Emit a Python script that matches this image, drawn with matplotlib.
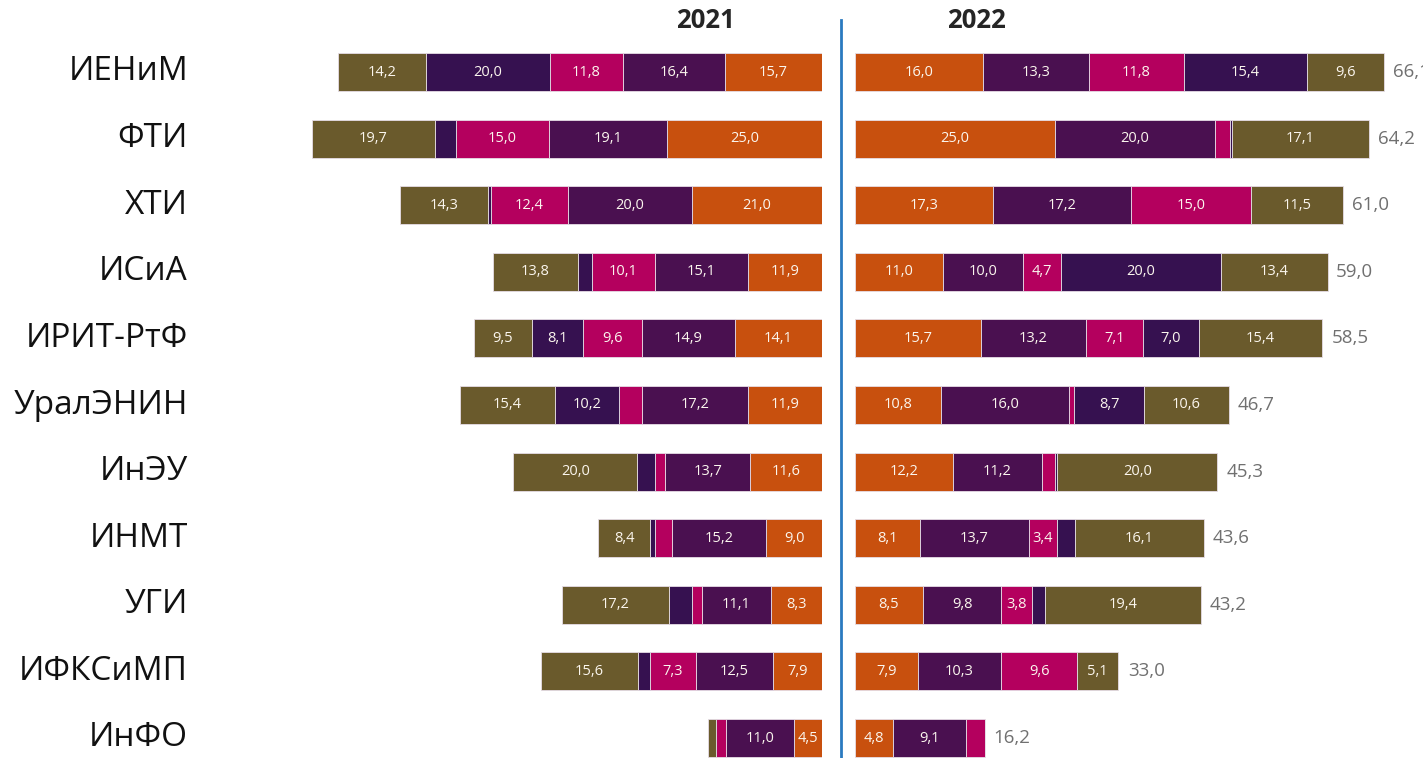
import numpy as np
import matplotlib.pyplot as plt

plt.rcParams['font.family'] = ['Open Sans', 'DejaVu Sans']

# institutes, top to bottom
cats = ['ИЕНиМ', 'ФТИ', 'ХТИ', 'ИСиА', 'ИРИТ-РтФ', 'УралЭНИН', 'ИнЭУ', 'ИНМТ', 'УГИ', 'ИФКСиМП', 'ИнФО']

# components, from the centre line outwards
a21 = [15.7, 25.0, 21.0, 11.9, 14.1, 11.9, 11.6, 9.0, 8.3, 7.9, 4.5]
b21 = [16.4, 19.1, 20.0, 15.1, 14.9, 17.2, 13.7, 15.2, 11.1, 12.5, 11.0]
c21 = [11.8, 15.0, 12.4, 10.1, 9.6, 3.7, 1.6, 2.7, 1.5, 7.3, 1.6]
d21 = [20.0, 3.4, 0.4, 2.2, 8.1, 10.2, 2.9, 0.8, 3.8, 2.0, 0.0]
e21 = [14.2, 19.7, 14.3, 13.8, 9.5, 15.4, 20.0, 8.4, 17.2, 15.6, 1.3]

a22 = [16.0, 25.0, 17.3, 11.0, 15.7, 10.8, 12.2, 8.1, 8.5, 7.9, 4.8]
b22 = [13.3, 20.0, 17.2, 10.0, 13.2, 16.0, 11.2, 13.7, 9.8, 10.3, 9.1]
c22 = [11.8, 1.9, 15.0, 4.7, 7.1, 0.6, 1.6, 3.4, 3.8, 9.6, 2.3]
d22 = [15.4, 0.2, 0.0, 20.0, 7.0, 8.7, 0.3, 2.3, 1.7, 0.0, 0.0]
e22 = [9.6, 17.1, 11.5, 13.4, 15.4, 10.6, 20.0, 16.1, 19.4, 5.1, 0.0]
tot22 = [66.1, 64.2, 61.0, 59.0, 58.5, 46.7, 45.3, 43.6, 43.2, 33.0, 16.2]

colors = ['#C8500E', '#4A1050', '#B4005E', '#361150', '#6A5A2C']

W, H = 1423, 758
fig = plt.figure(figsize=(W / 100, H / 100), dpi=100)
y = np.arange(len(cats))
ylim = ((H - 72) / 66.6, -72 / 66.6)

def fmt(v):
    return f'{v:.1f}'.replace('.', ',')

def panel(x0, x1, xmax, series, invert):
    ax = fig.add_axes([x0 / W, 0, (x1 - x0) / W, 1])
    left = np.zeros(len(cats))
    pxu = (x1 - x0) / xmax
    for vals, col in zip(series, colors):
        vals = np.array(vals)
        ax.barh(y, vals, left=left, height=0.57, color=col, edgecolor='#e6dde6', linewidth=0.6)
        for i, v in enumerate(vals):
            if v * pxu >= 25:
                ax.text(left[i] + v / 2, y[i], fmt(v), ha='center', va='center',
                        color='#fbf6ee', fontsize=10.5)
        left = left + vals
    ax.set_xlim((xmax, 0) if invert else (0, xmax))
    ax.set_ylim(*ylim)
    ax.axis('off')
    return ax, pxu

ax1, _ = panel(300, 822, 522 / 6.2, [a21, b21, c21, d21, e21], True)
ax2, pxu2 = panel(855, W, 568 / 8.0, [a22, b22, c22, d22, e22], False)

for i, t in enumerate(tot22):
    ax2.text(t + 9 / pxu2, y[i], fmt(t), ha='left', va='center', color='#707070', fontsize=13.5,
             clip_on=True)

for i, c in enumerate(cats):
    fig.text(188 / W, 1 - (72 + 66.6 * i) / H, c, ha='right', va='center', fontsize=24, color='#111111')

fig.text(705 / W, 1 - 21 / H, '2021', ha='center', va='center', fontsize=18.5, fontweight='bold', color='#252525')
fig.text(976 / W, 1 - 21 / H, '2022', ha='center', va='center', fontsize=18.5, fontweight='bold', color='#252525')
fig.add_artist(plt.Line2D([841 / W, 841 / W], [0, 1 - 20 / H], color='#2A7AC0', linewidth=2))

fig.savefig('out.png', dpi=100)
